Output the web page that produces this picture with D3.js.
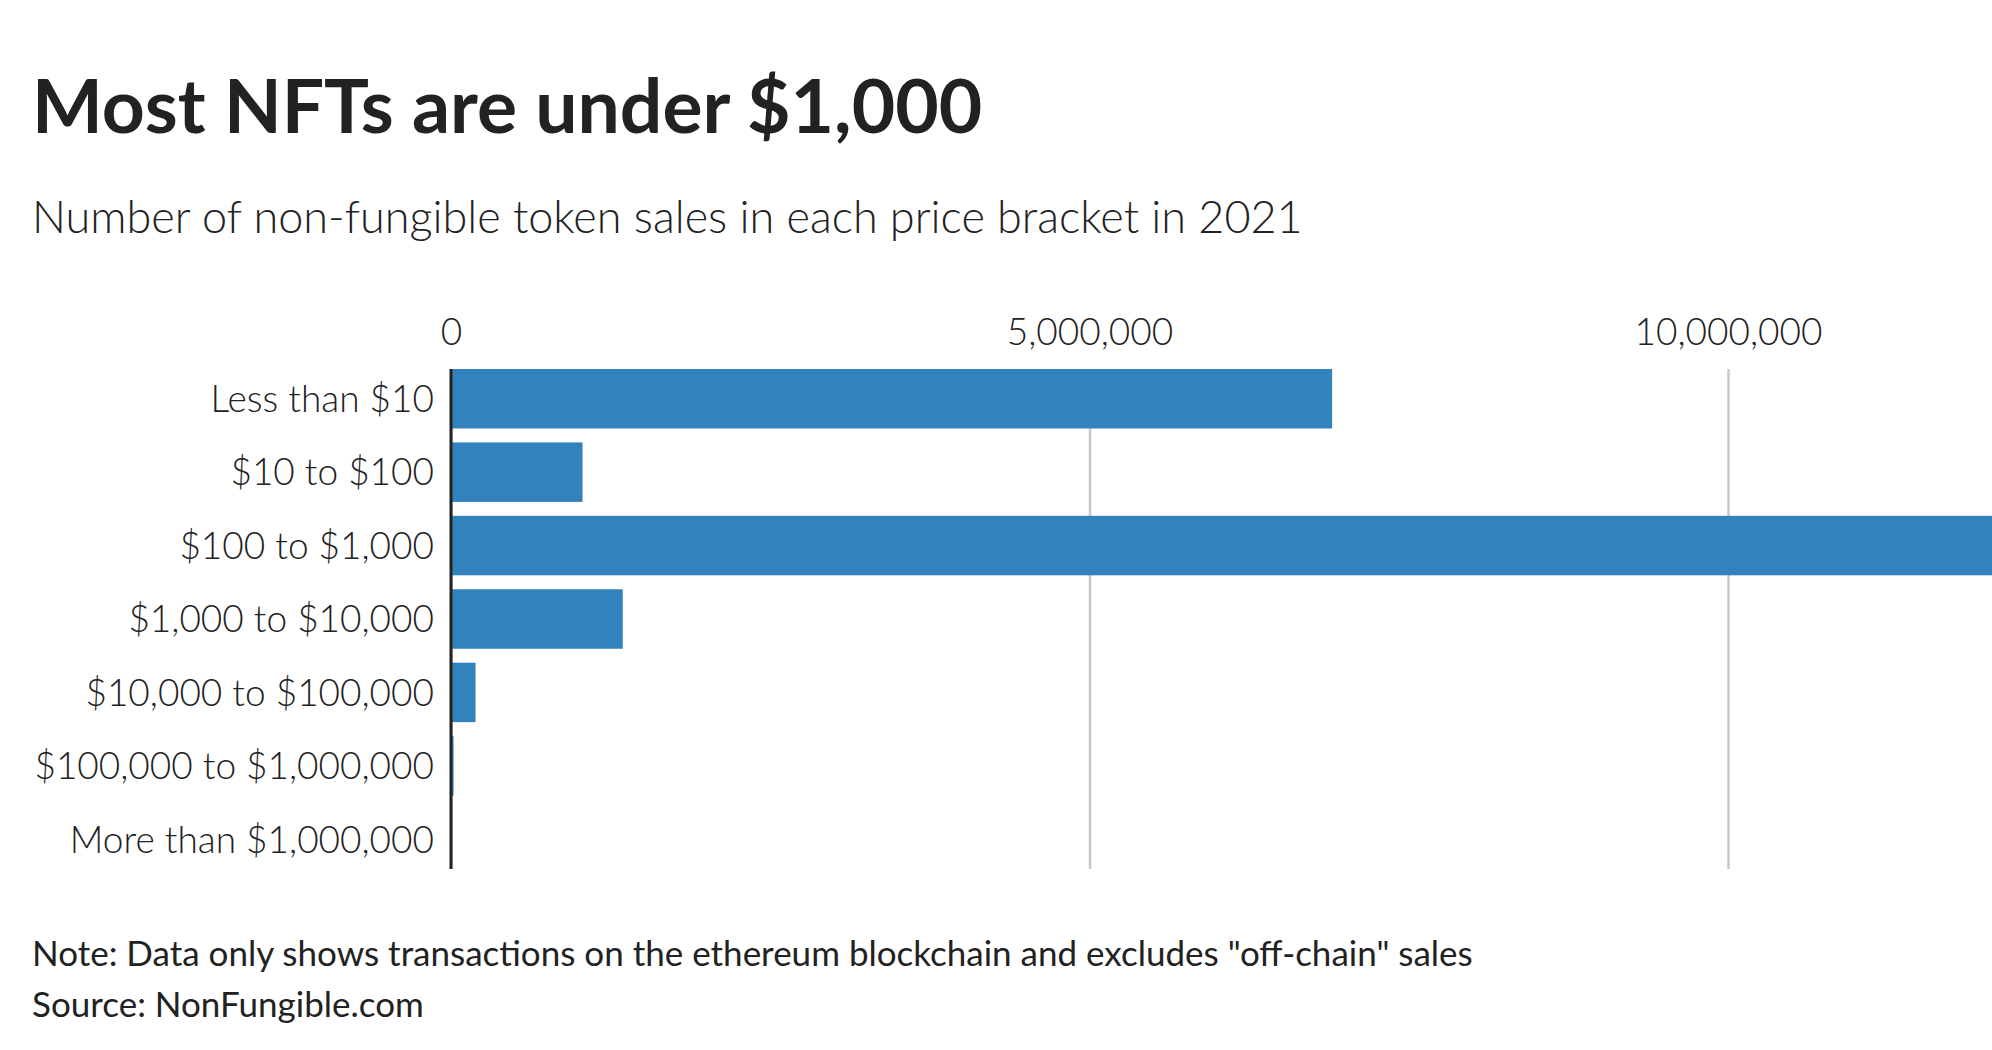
<!DOCTYPE html>
<html>
<head>
<meta charset="utf-8">
<script src="https://cdn.jsdelivr.net/npm/d3@7"></script>
<style>
  html, body { margin: 0; padding: 0; background: #fff; }
  svg { display: block; }
</style>
</head>
<body>
<svg id="c" width="1992" height="1050"></svg>
<script>
  const titleText = 'Most NFTs are under $1,000';
  const subtitleText = 'Number of non-fungible token sales in each price bracket in 2021';
  const noteText = 'Note: Data only shows transactions on the ethereum blockchain and excludes "off-chain" sales';
  const sourceText = 'Source: NonFungible.com';

  const brackets = [
    'Less than $10',
    '$10 to $100',
    '$100 to $1,000',
    '$1,000 to $10,000',
    '$10,000 to $100,000',
    '$100,000 to $1,000,000',
    'More than $1,000,000'
  ];
  // number of sales
  const sales = [6900000, 1030000, 12500000, 1345000, 192000, 20000, 1000];
  const xTicks = [0, 5000000, 10000000];

  const fontFamily = 'Lato, "Noto Sans", sans-serif';
  const textColor = '#222';

  const svg = d3.select('#c');
  const width = +svg.attr('width');
  const height = +svg.attr('height');

  const margin = { top: 369, right: 0, bottom: 181, left: 451 };
  const innerWidth = width - margin.left - margin.right;
  const innerHeight = height - margin.top - margin.bottom;

  const data = brackets.map((b, i) => ({ bracket: b, value: sales[i] }));

  const xScale = d3.scaleLinear()
    .domain([0, 10000000])
    .range([0, 1277]);

  const yScale = d3.scaleBand()
    .domain(brackets)
    .range([0, innerHeight])
    .paddingInner(0.19)
    .paddingOuter(0.0);

  const addText = (x, y, size, weight, str) =>
    svg.append('text')
      .attr('x', x)
      .attr('y', y)
      .attr('font-family', fontFamily)
      .attr('font-size', size)
      .attr('font-weight', weight)
      .attr('fill', textColor)
      .text(str);

  addText(32, 133, 75, 700, titleText);
  addText(32, 233, 45, 300, subtitleText);

  const g = svg.append('g')
    .attr('transform', `translate(${margin.left},${margin.top})`);

  const xAxisG = g.append('g')
    .call(d3.axisTop(xScale)
      .tickValues(xTicks)
      .tickFormat(d3.format(','))
      .tickSize(-innerHeight)
      .tickPadding(24))
    .attr('font-family', fontFamily)
    .attr('font-size', 37)
    .attr('font-weight', 300);
  xAxisG.select('.domain').remove();
  xAxisG.selectAll('.tick line')
    .attr('stroke', '#c8c8c8')
    .attr('stroke-width', 2.5);
  xAxisG.selectAll('.tick text').attr('fill', textColor);

  // the widest bar runs off the right edge, as in the original
  g.selectAll('rect').data(data)
    .enter().append('rect')
      .attr('x', 0)
      .attr('y', d => yScale(d.bracket))
      .attr('width', d => Math.min(xScale(d.value), innerWidth))
      .attr('height', yScale.bandwidth())
      .attr('fill', '#3182bd');

  const yAxisG = g.append('g')
    .call(d3.axisLeft(yScale).tickSize(0).tickPadding(17))
    .attr('font-family', fontFamily)
    .attr('font-size', 37)
    .attr('font-weight', 300);
  yAxisG.select('.domain').remove();
  yAxisG.selectAll('.tick text')
    .attr('dy', '0.36em')
    .attr('fill', textColor);

  g.append('line')
    .attr('x1', 0).attr('x2', 0)
    .attr('y1', 0).attr('y2', innerHeight)
    .attr('stroke', textColor)
    .attr('stroke-width', 3);

  addText(32, 966, 35, 400, noteText);
  addText(32, 1017, 35, 400, sourceText);
</script>
</body>
</html>
